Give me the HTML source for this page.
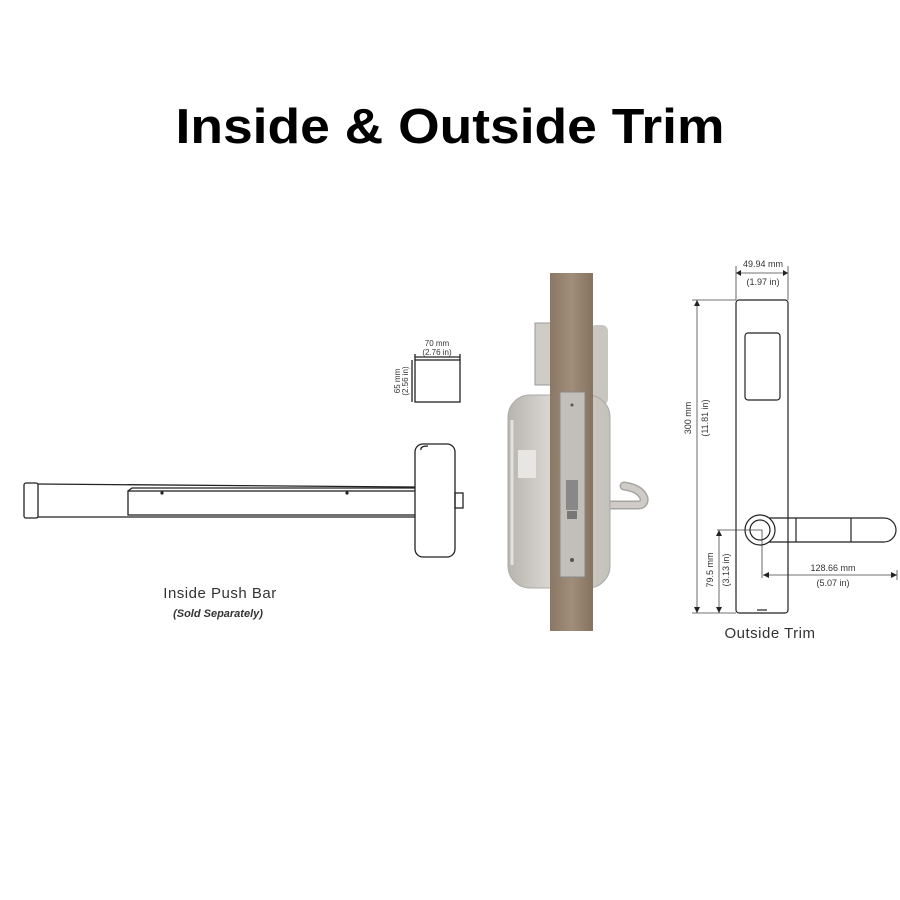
<!DOCTYPE html>
<html><head><meta charset="utf-8"><style>
html,body{margin:0;padding:0;background:#fff;}
svg{display:block;font-family:"Liberation Sans",sans-serif;}
</style></head><body>
<svg width="900" height="900" viewBox="0 0 900 900" xmlns="http://www.w3.org/2000/svg">
<rect width="900" height="900" fill="#fff"/>
<text x="450" y="143" text-anchor="middle" font-size="49" font-weight="bold" textLength="549" lengthAdjust="spacingAndGlyphs" fill="#000">Inside &amp; Outside Trim</text>

<!-- Push bar -->
<g fill="none" stroke="#222" stroke-width="1.3">
<rect x="24" y="483" width="14" height="35" rx="2"/>
<path d="M38 484 L415 487 M38 517 L415 517"/>
<rect x="128" y="491" width="292" height="24" fill="#fff"/>
<path d="M128 491 L132 488 L420 488"/>
<rect x="415" y="444" width="40" height="113" rx="8" fill="#fff"/>
<path d="M421 450 Q420 446 428 446"/>
<rect x="455" y="493" width="8" height="15"/>
<rect x="415" y="360" width="45" height="42"/>
<path d="M415 357 L460 357 M415 354 L415 360 M460 354 L460 360 M412 360 L412 402"/>
</g>
<circle cx="162" cy="493" r="1.6" fill="#222"/><circle cx="347" cy="493" r="1.6" fill="#222"/>
<g fill="#333" font-size="8" text-anchor="middle">
<text x="437" y="346">70 mm</text><text x="437" y="355">(2.76 in)</text>
<text transform="translate(400,381) rotate(-90)">65 mm</text>
<text transform="translate(408,381) rotate(-90)">(2.56 in)</text>
</g>
<text x="220" y="598" font-size="15" text-anchor="middle" fill="#333" letter-spacing="0.5">Inside Push Bar</text>
<text x="218" y="617" font-size="11" font-style="italic" font-weight="bold" text-anchor="middle" fill="#333">(Sold Separately)</text>

<!-- Door & lock -->
<defs>
<linearGradient id="door" x1="0" x2="1"><stop offset="0" stop-color="#8a7865"/><stop offset="0.5" stop-color="#a08e7b"/><stop offset="1" stop-color="#857360"/></linearGradient>
<linearGradient id="steel" x1="0" x2="1"><stop offset="0" stop-color="#b8b4ae"/><stop offset="0.4" stop-color="#d9d6d1"/><stop offset="1" stop-color="#c4c0ba"/></linearGradient>
</defs>
<rect x="535" y="323" width="18" height="62" fill="#cfccc6" stroke="#999"/>
<rect x="590" y="325" width="18" height="80" rx="6" fill="#c9c6c0"/>
<path d="M608 505 L638 505 Q645 505 644 498 Q640 488 624 486" fill="none" stroke="#a9a6a1" stroke-width="9" stroke-linecap="round"/>
<path d="M608 505 L638 505 Q645 505 644 498 Q640 488 624 486" fill="none" stroke="#cfccc7" stroke-width="6" stroke-linecap="round"/>
<rect x="508" y="395" width="102" height="193" rx="22" fill="url(#steel)" stroke="#aaa"/>
<path d="M512 420 L512 565" stroke="#e4e2de" stroke-width="3"/>
<rect x="550" y="273" width="43" height="358" fill="url(#door)"/>
<rect x="560" y="392" width="25" height="185" fill="#c2bfba" stroke="#888"/>
<rect x="566" y="480" width="12" height="30" fill="#888"/>
<rect x="567" y="511" width="10" height="8" fill="#777"/>
<circle cx="572" cy="405" r="1.5" fill="#555"/><circle cx="572" cy="560" r="2" fill="#555"/>
<rect x="518" y="450" width="18" height="28" fill="#e8e6e2"/>

<!-- Outside trim -->
<g fill="none" stroke="#222" stroke-width="1.2">
<rect x="736" y="300" width="52" height="313" rx="3"/>
<rect x="745" y="333" width="35" height="67" rx="3"/>
<path d="M760 518 L884 518 A12 12 0 0 1 884 542 L760 542"/>
<circle cx="760" cy="530" r="15" fill="#fff"/>
<circle cx="760" cy="530" r="10"/>
<path d="M796 518 L796 542 M851 518 L851 542"/>
<path d="M757 610 L767 610"/>
</g>
<g fill="none" stroke="#444" stroke-width="0.8">
<path d="M736 273 L788 273 M736 266 L736 300 M788 266 L788 300"/>
<path d="M697 300 L697 613 M692 300 L736 300 M692 613 L736 613"/>
<path d="M719 530 L719 613 M717 530 L762 530 L762 578"/>
<path d="M763 575 L897 575 M897 570 L897 580"/>
</g>
<g fill="#222">
<path d="M736 273 l5 -3 l0 6z M788 273 l-5 -3 l0 6z"/>
<path d="M697 300 l-3 6 l6 0z M697 613 l-3 -6 l6 0z"/>
<path d="M719 530 l-3 6 l6 0z M719 613 l-3 -6 l6 0z"/>
<path d="M763 575 l6 -3 l0 6z M897 575 l-6 -3 l0 6z"/>
</g>
<g fill="#333" font-size="9" text-anchor="middle">
<text x="763" y="267">49.94 mm</text><text x="763" y="285">(1.97 in)</text>
<text transform="translate(691,418) rotate(-90)">300 mm</text>
<text transform="translate(708,418) rotate(-90)">(11.81 in)</text>
<text transform="translate(713,570) rotate(-90)">79.5 mm</text>
<text transform="translate(729,570) rotate(-90)">(3.13 in)</text>
<text x="833" y="571">128.66 mm</text><text x="833" y="586">(5.07 in)</text>
</g>
<text x="770" y="638" font-size="15" text-anchor="middle" fill="#333" letter-spacing="0.5">Outside Trim</text>
</svg>
</body></html>
